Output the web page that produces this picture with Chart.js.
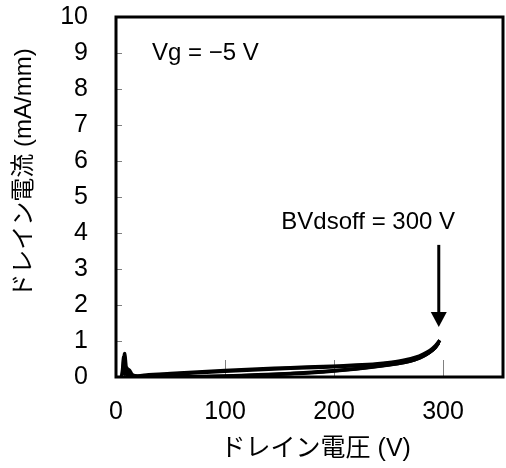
<!DOCTYPE html>
<html>
<head>
<meta charset="utf-8">
<script src="https://cdn.jsdelivr.net/npm/chart.js@4"></script>
<style>
html, body { margin: 0; padding: 0; background: #fff; }
</style>
</head>
<body>
<canvas id="graph-canvas" width="506" height="468"></canvas>
<script>
// sweep 1 (forward / return)
const upV1 = [5, 6, 7, 8, 9, 10, 11, 13, 16, 20, 30, 50, 75, 100, 130, 160, 190, 220, 240, 255, 265, 275, 282, 288, 293, 297];
const upI1 = [0.0, 0.2, 0.55, 0.3, 0.1, 0.25, 0.15, 0.08, 0.04, 0.03, 0.06, 0.1, 0.14, 0.18, 0.22, 0.26, 0.29, 0.33, 0.37, 0.42, 0.47, 0.55, 0.64, 0.74, 0.87, 1.02];
const downV1 = [297, 293, 288, 282, 275, 265, 250, 220, 190, 160, 130, 100, 70, 40, 20, 12, 9, 7];
const downI1 = [1.02, 0.83, 0.69, 0.58, 0.49, 0.41, 0.34, 0.23, 0.15, 0.1, 0.06, 0.03, 0.01, 0.0, 0.0, 0.02, 0.1, 0.05];
// sweep 2
const upV2 = [6, 7, 8, 9, 10, 12, 15, 20, 30, 50, 75, 100, 130, 160, 190, 220, 240, 255, 265, 275, 282, 288, 293, 296];
const upI2 = [0.05, 0.4, 0.65, 0.35, 0.12, 0.2, 0.06, 0.02, 0.04, 0.08, 0.12, 0.16, 0.2, 0.24, 0.27, 0.31, 0.35, 0.4, 0.45, 0.52, 0.6, 0.7, 0.82, 0.95];
const downV2 = [296, 292, 287, 281, 274, 264, 250, 220, 190, 160, 130, 100, 70, 40, 20, 12, 8];
const downI2 = [0.95, 0.8, 0.67, 0.57, 0.48, 0.4, 0.33, 0.22, 0.14, 0.09, 0.05, 0.02, 0.0, -0.01, 0.0, 0.03, 0.2];

const xTicks = [0, 100, 200, 300];
const yTicks = [0, 1, 2, 3, 4, 5, 6, 7, 8, 9, 10];

const gateLabel = 'Vg = \u22125 V';
const breakdownLabel = 'BVdsoff = 300 V';
const breakdownV = 297;

const FONT = "'Liberation Sans', 'Noto Sans CJK JP', sans-serif";

function toPoints(xs, ys) {
    return xs.map((x, i) => ({ x: x, y: ys[i] }));
}

function makeSet(xs, ys) {
    return {
        data: toPoints(xs, ys),
        showLine: true,
        borderColor: '#000',
        borderWidth: 3.5,
        pointRadius: 0,
        tension: 0.3,
        fill: false
    };
}

const frameAndTicks = {
    id: 'frameAndTicks',
    beforeDatasetsDraw(chart) {
        const { ctx, chartArea: a, scales: { x, y } } = chart;
        ctx.save();
        ctx.strokeStyle = '#808080';
        ctx.lineWidth = 1;
        xTicks.forEach(v => {
            if (v === 0) return;
            const px = Math.round(x.getPixelForValue(v)) + 0.5;
            ctx.beginPath();
            ctx.moveTo(px, a.bottom);
            ctx.lineTo(px, a.bottom - 17);
            ctx.stroke();
        });
        yTicks.forEach(v => {
            if (v === 0 || v === 10) return;
            const py = Math.round(y.getPixelForValue(v)) + 0.5;
            ctx.beginPath();
            ctx.moveTo(a.left, py);
            ctx.lineTo(a.left + 6, py);
            ctx.stroke();
        });
        ctx.restore();
    },
    afterDraw(chart) {
        const { ctx, chartArea: a, scales: { x, y } } = chart;
        ctx.save();
        ctx.strokeStyle = '#000';
        ctx.lineWidth = 3;
        ctx.strokeRect(a.left, a.top, a.right - a.left, a.bottom - a.top);

        ctx.fillStyle = '#000';
        ctx.font = '24px ' + FONT;
        ctx.textBaseline = 'middle';
        ctx.textAlign = 'left';
        ctx.fillText(gateLabel, x.getPixelForValue(33), y.getPixelForValue(9.0));
        ctx.textAlign = 'right';
        ctx.fillText(breakdownLabel, x.getPixelForValue(311), y.getPixelForValue(4.3));

        // arrow to the breakdown point
        const ax = x.getPixelForValue(breakdownV) - 1;
        const yTop = y.getPixelForValue(3.67);
        const yTip = y.getPixelForValue(1.39);
        ctx.lineWidth = 3;
        ctx.beginPath();
        ctx.moveTo(ax, yTop);
        ctx.lineTo(ax, yTip - 10);
        ctx.stroke();
        ctx.beginPath();
        ctx.moveTo(ax - 8, yTip - 15);
        ctx.lineTo(ax + 8, yTip - 15);
        ctx.lineTo(ax, yTip);
        ctx.closePath();
        ctx.fill();
        ctx.restore();
    }
};

const ctx = document.getElementById('graph-canvas').getContext('2d');

new Chart(ctx, {
    type: 'scatter',
    data: {
        datasets: [
            makeSet(upV1, upI1),
            makeSet(downV1, downI1),
            makeSet(upV2, upI2),
            makeSet(downV2, downI2)
        ]
    },
    options: {
        responsive: false,
        animation: false,
        layout: { padding: { left: 0, top: 17, right: 3, bottom: 0 } },
        plugins: {
            legend: { display: false },
            tooltip: { enabled: false }
        },
        scales: {
            x: {
                type: 'linear',
                min: 0,
                max: 355,
                border: { display: false },
                grid: { display: false, drawTicks: false },
                ticks: {
                    stepSize: 100,
                    includeBounds: false,
                    padding: 20,
                    color: '#000',
                    font: { family: FONT, size: 25 }
                },
                title: {
                    display: true,
                    text: '\u2002ドレイン電圧 (V)',
                    color: '#000',
                    padding: { top: 0, bottom: 4 },
                    font: { family: FONT, size: 25 }
                },
                afterFit: s => { s.height = 91; s.paddingLeft = 0; s.paddingRight = 0; }
            },
            y: {
                min: 0,
                max: 10,
                border: { display: false },
                grid: { display: false, drawTicks: false },
                ticks: {
                    stepSize: 1,
                    padding: 28,
                    color: '#000',
                    font: { family: FONT, size: 25 }
                },
                title: {
                    display: true,
                    text: '\u2003\u2003ドレイン電流 (mA/mm)',
                    color: '#000',
                    padding: { top: 10, bottom: 0 },
                    font: { family: FONT, size: 24 }
                },
                afterFit: s => { s.width = 116; s.paddingTop = 0; s.paddingBottom = 0; }
            }
        }
    },
    plugins: [frameAndTicks]
});
</script>
</body>
</html>
